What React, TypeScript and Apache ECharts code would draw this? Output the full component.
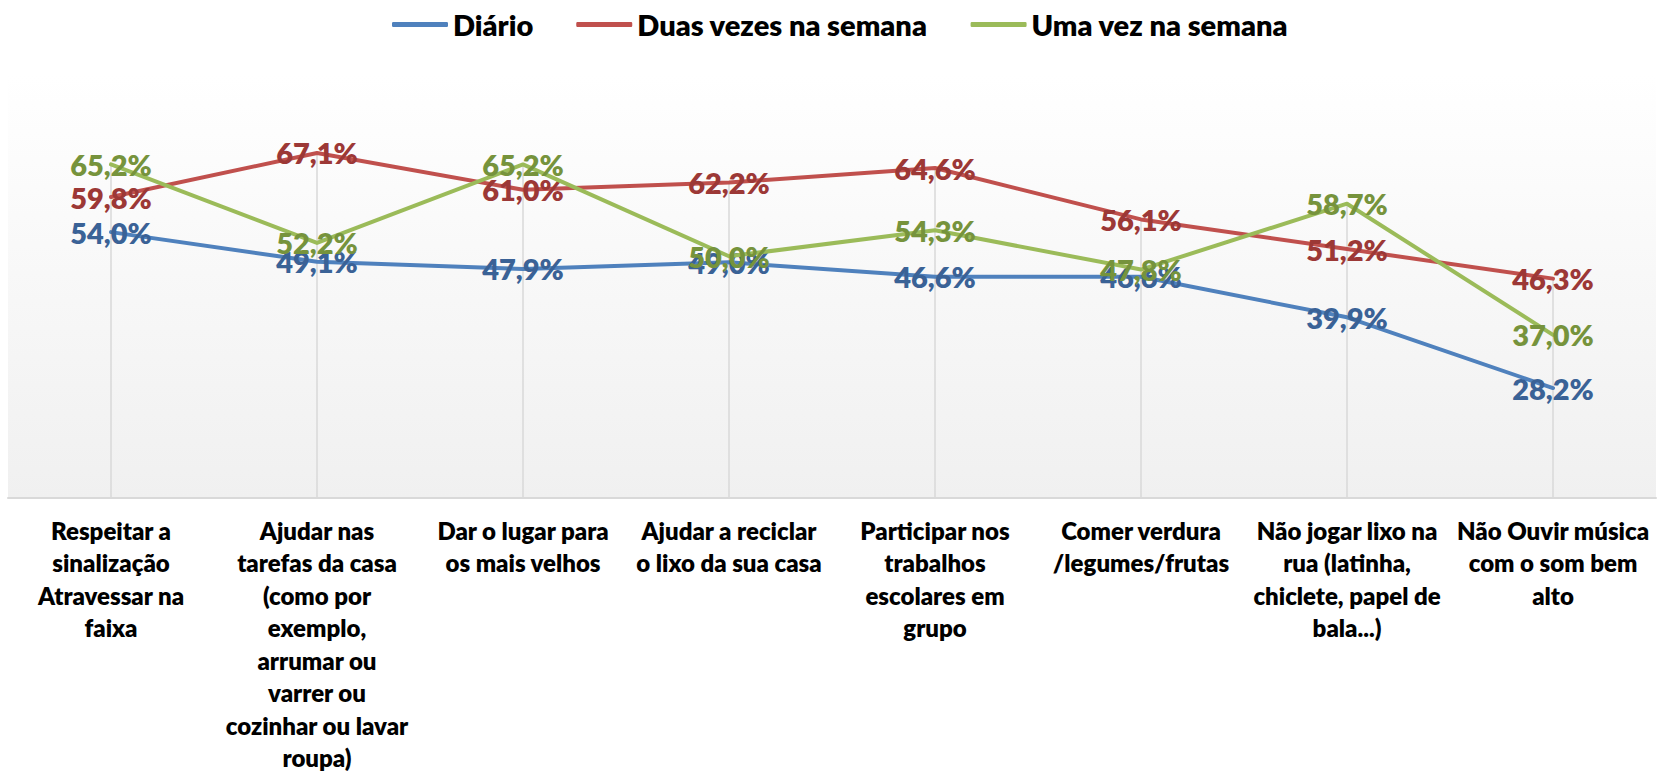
import React, { useEffect, useRef } from "react";
import * as echarts from "echarts";

const categories = [
  "Respeitar a\nsinalização\nAtravessar na\nfaixa",
  "Ajudar nas\ntarefas da casa\n(como por\nexemplo,\narrumar ou\nvarrer ou\ncozinhar ou lavar\nroupa)",
  "Dar o lugar para\nos mais velhos",
  "Ajudar a reciclar\no lixo da sua casa",
  "Participar nos\ntrabalhos\nescolares em\ngrupo",
  "Comer verdura\n/legumes/frutas",
  "Não jogar lixo na\nrua (latinha,\nchiclete, papel de\nbala...)",
  "Não Ouvir música\ncom o som bem\nalto",
];

const diario = [54.0, 49.1, 47.9, 49.0, 46.6, 46.6, 39.9, 28.2];
const duasVezes = [59.8, 67.1, 61.0, 62.2, 64.6, 56.1, 51.2, 46.3];
const umaVez = [65.2, 52.2, 65.2, 50.0, 54.3, 47.8, 58.7, 37.0];

const seriesNames = ["Diário", "Duas vezes na semana", "Uma vez na semana"];

const Y_MIN = 10;
const Y_MAX = 80;

const FONT = "Lato, 'Open Sans', sans-serif";
const WEIGHT = 800;

export default function App() {
  const ref = useRef<HTMLDivElement>(null);

  useEffect(() => {
    if (!ref.current) return;
    const chart = echarts.init(ref.current, undefined, { renderer: "svg" });

    const fmt = (p: any) => {
      const v = Array.isArray(p.value) ? p.value[1] : p.value;
      return Number(v).toFixed(1).replace(".", ",") + "%";
    };

    const mkLine = (name: string, data: number[], lineColor: string, labelColor: string, z: number) => ({
      name,
      type: "line",
      data,
      z,
      symbol: "circle",
      symbolSize: 1,
      showSymbol: true,
      itemStyle: { color: lineColor },
      lineStyle: { color: lineColor, width: 4, cap: "round", join: "round" },
      label: {
        show: true,
        position: "inside",
        formatter: fmt,
        color: labelColor,
        fontFamily: FONT,
        fontWeight: WEIGHT,
        fontSize: 29,
      },
      emphasis: { disabled: true },
    });

    const dropData = categories.map((_, i) => [i, Math.max(diario[i], duasVezes[i], umaVez[i])]);

    chart.setOption({
      animation: false,
      backgroundColor: "#FFFFFF",
      legend: {
        data: seriesNames,
        top: 5,
        left: 387,
        itemWidth: 56,
        itemHeight: 5,
        itemGap: 43,
        icon: "roundRect",
        textStyle: { fontFamily: FONT, fontWeight: WEIGHT, fontSize: 29, color: "#000000" },
      },
      grid: {
        left: 8,
        right: 2,
        top: 75,
        bottom: 274,
        outerBoundsMode: "none",
        containLabel: false,
        show: true,
        borderWidth: 0,
        backgroundColor: new echarts.graphic.LinearGradient(0, 0, 0, 1, [
          { offset: 0, color: "#FFFFFF" },
          { offset: 1, color: "#F0F0F0" },
        ]),
      },
      xAxis: {
        type: "category",
        data: categories,
        boundaryGap: true,
        axisLine: { show: true, lineStyle: { color: "#D9D9D9", width: 2 } },
        axisTick: { show: false },
        splitLine: { show: false },
        axisLabel: {
          interval: 0,
          margin: 16,
          color: "#000000",
          fontFamily: FONT,
          fontWeight: WEIGHT,
          fontSize: 24,
          lineHeight: 32.5,
          align: "center",
        },
      },
      yAxis: {
        type: "value",
        min: Y_MIN,
        max: Y_MAX,
        show: false,
        splitLine: { show: false },
      },
      series: [
        {
          name: "dropLines",
          type: "custom",
          z: 1,
          silent: true,
          data: dropData,
          renderItem: (params: any, api: any) => {
            const p1 = api.coord([api.value(0), api.value(1)]);
            const p2 = api.coord([api.value(0), Y_MIN]);
            return {
              type: "line",
              shape: { x1: p1[0], y1: p1[1], x2: p2[0], y2: p2[1] },
              style: { stroke: "#D9D9D9", lineWidth: 1.5 },
            };
          },
        },
        mkLine(seriesNames[0], diario, "#4F81BD", "#3A6296", 2),
        mkLine(seriesNames[1], duasVezes, "#C0504D", "#9C3836", 3),
        mkLine(seriesNames[2], umaVez, "#9BBB59", "#76933C", 4),
      ],
    });

    return () => chart.dispose();
  }, []);

  return (
    <div
      ref={ref}
      style={{ position: "fixed", left: 0, top: 0, width: 1658, height: 772 }}
    />
  );
}
